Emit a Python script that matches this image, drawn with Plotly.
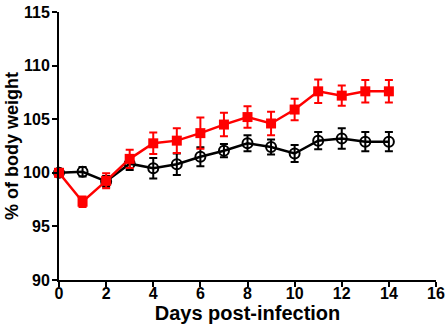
import plotly.graph_objects as go

days = list(range(15))
red_vals = [100.0, 97.3, 99.25, 101.3, 102.75, 103.0, 103.7, 104.5, 105.2, 104.6, 105.9, 107.6, 107.2, 107.6, 107.6]
red_err = [0.15, 0.5, 0.7, 0.85, 1.0, 1.15, 1.45, 1.1, 1.0, 1.1, 1.0, 1.1, 0.95, 1.05, 1.05]
black_vals = [100.0, 100.1, 99.2, 100.85, 100.42, 100.8, 101.5, 102.06, 102.75, 102.4, 101.8, 103.0, 103.2, 102.9, 102.9]
black_err = [0.1, 0.45, 0.5, 0.6, 0.96, 1.0, 0.89, 0.62, 0.75, 0.7, 0.8, 0.8, 0.95, 0.9, 0.9]

xticks = [0, 2, 4, 6, 8, 10, 12, 14, 16]
yticks = [90, 95, 100, 105, 110, 115]

font_fam = "Arial, Liberation Sans, sans-serif"

fig = go.Figure()
fig.add_trace(go.Scatter(
    x=days, y=black_vals, mode="lines+markers",
    line=dict(color="black", width=2.5),
    marker=dict(symbol="circle-open", size=10, color="black", line=dict(width=2)),
    error_y=dict(type="data", array=black_err, color="black", thickness=2, width=4),
    cliponaxis=False, showlegend=False,
))
fig.add_trace(go.Scatter(
    x=days, y=red_vals, mode="lines+markers",
    line=dict(color="#ff0000", width=2.5),
    marker=dict(symbol="square", size=10, color="#ff0000"),
    error_y=dict(type="data", array=red_err, color="#ff0000", thickness=2, width=4),
    cliponaxis=False, showlegend=False,
))

axis_common = dict(
    showline=True, linecolor="black", linewidth=2,
    ticks="outside", tickcolor="black", tickwidth=2, ticklen=5,
    showgrid=False, zeroline=False, automargin=False,
    tickfont=dict(family=font_fam, size=16, color="black", weight="bold"),
)
fig.update_xaxes(range=[0, 16], tickvals=xticks, ticktext=[str(t) for t in xticks],
                 ticklabelstandoff=-7,
                 title=dict(text="Days post-infection", font=dict(family=font_fam, size=20, color="black", weight="bold"), standoff=4),
                 **axis_common)
fig.update_yaxes(range=[90, 115], tickvals=yticks, ticktext=[str(t) for t in yticks],
                 ticklabelstandoff=-1,
                 title=dict(text="% of body weight", font=dict(family=font_fam, size=18, color="black", weight="bold"), standoff=0),
                 **axis_common)
fig.update_layout(
    width=447, height=329,
    margin=dict(l=59, r=11, t=12, b=49),
    plot_bgcolor="white", paper_bgcolor="white",
)
fig.write_html("out.html", config={"displayModeBar": False},
               post_script="document.body.style.margin='0';document.body.style.overflow='hidden';")
